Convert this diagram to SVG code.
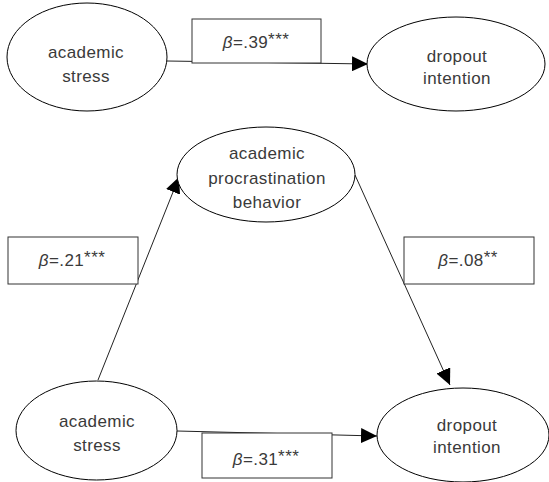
<svg xmlns="http://www.w3.org/2000/svg" width="549" height="482" viewBox="0 0 549 482">
<style>
.node ellipse{fill:#fff;stroke:#000;stroke-width:1}
.lbl rect{fill:#fff;stroke:#333;stroke-width:1}
text{font-family:"Liberation Sans",Arial,sans-serif;font-size:17px;fill:#3a3a3a;text-anchor:middle;letter-spacing:0.4px}
.b{font-style:italic}
.conn line{stroke:#222;stroke-width:1}
</style>
<defs>
<marker id="ah" markerUnits="userSpaceOnUse" markerWidth="16" markerHeight="15" refX="16" refY="7.5" orient="auto">
<path d="M0,0 L16,7.5 L0,15 Z" fill="#000"/>
</marker>
</defs>
<rect width="549" height="482" fill="#fff"/>
<g id="connectors" class="conn">
<line x1="167" y1="61" x2="368" y2="64" marker-end="url(#ah)"/>
<line x1="98" y1="380" x2="179" y2="177" marker-end="url(#ah)"/>
<line x1="355" y1="175" x2="450" y2="385" marker-end="url(#ah)"/>
<line x1="177" y1="431" x2="377" y2="436" marker-end="url(#ah)"/>
</g>
<g id="stress1" class="node">
<ellipse cx="87" cy="57" rx="80" ry="54"/>
<text x="86" y="58">academic</text>
<text x="86" y="82">stress</text>
</g>
<g id="dropout1" class="node">
<ellipse cx="456" cy="64" rx="89" ry="47"/>
<text x="457" y="62">dropout</text>
<text x="457" y="84">intention</text>
</g>
<g id="procrastination" class="node">
<ellipse cx="266" cy="174.5" rx="89" ry="47.5"/>
<text x="267" y="159">academic</text>
<text x="267" y="184">procrastination</text>
<text x="267" y="208">behavior</text>
</g>
<g id="stress2" class="node">
<ellipse cx="96.5" cy="430.5" rx="80.5" ry="49.5"/>
<text x="97" y="427">academic</text>
<text x="97" y="451">stress</text>
</g>
<g id="dropout2" class="node">
<ellipse cx="463" cy="435" rx="86" ry="47"/>
<text x="467" y="431">dropout</text>
<text x="467" y="453">intention</text>
</g>
<g id="label-top" class="lbl">
<rect x="192" y="19" width="129" height="44"/>
<text x="256" y="48"><tspan class="b">β</tspan>=.39<tspan dy="-3">***</tspan></text>
</g>
<g id="label-left" class="lbl">
<rect x="8" y="237" width="130" height="47"/>
<text x="72" y="266"><tspan class="b">β</tspan>=.21<tspan dy="-3">***</tspan></text>
</g>
<g id="label-right" class="lbl">
<rect x="404" y="237" width="130" height="47"/>
<text x="468" y="266"><tspan class="b">β</tspan>=.08<tspan dy="-3">**</tspan></text>
</g>
<g id="label-bottom" class="lbl">
<rect x="202" y="433" width="130" height="45"/>
<text x="266" y="465"><tspan class="b">β</tspan>=.31<tspan dy="-3">***</tspan></text>
</g>
</svg>
